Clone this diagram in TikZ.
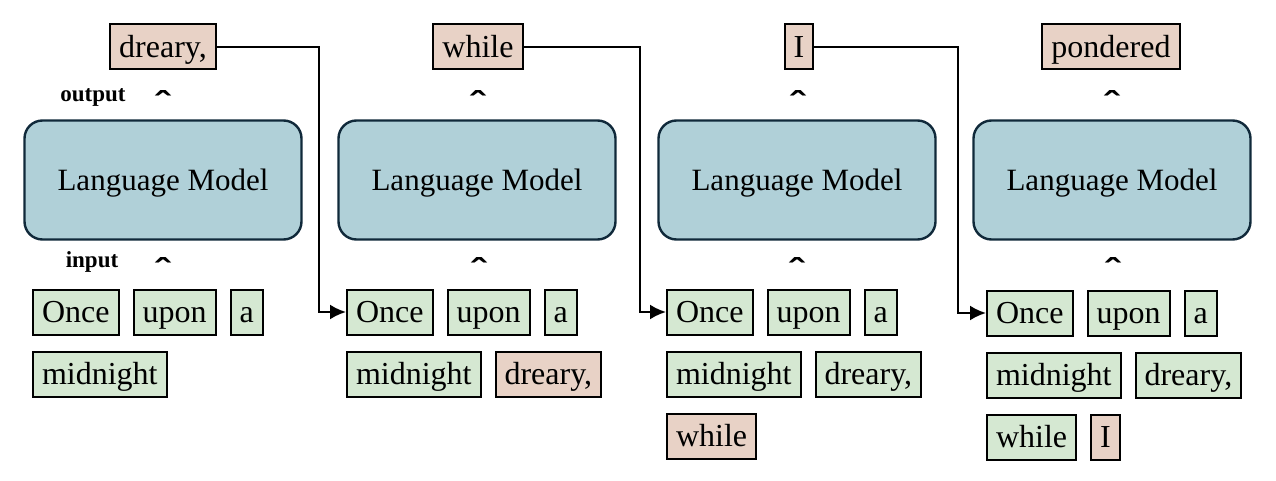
\documentclass[tikz,border=0pt]{standalone}
\usepackage{graphicx}
\usepackage{fontspec}
\setmainfont{Liberation Serif}
\newfontfamily\markfont{DejaVu Sans}
\usetikzlibrary{positioning,arrows.meta}
\definecolor{modelfill}{HTML}{B0D0D8}
\definecolor{modelline}{HTML}{10293A}
\definecolor{tokgreen}{HTML}{D5E8D2}
\definecolor{tokpeach}{HTML}{E8D2C6}
\newcommand{\upmark}{\scalebox{1.5}[1]{ˆ}}
\tikzset{
  model/.style={draw=modelline, line width=1.2pt, fill=modelfill, rounded corners=9pt,
    minimum width=138.5pt, minimum height=59.5pt, font=\fontsize{15.5}{18}\selectfont,
    text height=10.3pt, text depth=0pt},
  tok/.style={draw, line width=1pt, fill=tokgreen, minimum height=22.5pt, inner xsep=4.5pt,
    inner ysep=0pt, font=\fontsize{16}{19}\selectfont, text height=10.6pt, text depth=0pt},
  gen/.style={tok, fill=tokpeach},
  caret/.style={font=\markfont\fontsize{15}{15}\bfseries\selectfont, anchor=base, inner sep=0pt},
  tag/.style={font=\fontsize{11.5}{14}\bfseries\selectfont, anchor=base, inner sep=0pt},
  link/.style={line width=1.1pt, -{Latex[length=8pt,width=7.5pt]}}
}
\begin{document}
\begin{tikzpicture}[x=0.5pt,y=-0.5pt]
        \useasboundingbox (0,0) rectangle (1276,481);
        % models
        \node[model] at (163,180)  (lm1) {Language Model};
        \node[model] at (477,180)  (lm2) {Language Model};
        \node[model] at (797,180)  (lm3) {Language Model};
        \node[model] at (1112,180) (lm4) {Language Model};
        % outputs
        \node[gen] at (163,47)  (out1) {dreary,};
        \node[gen] at (478,47)  (out2) {while};
        \node[gen] at (799,47)  (out3) {I};
        \node[gen] at (1111,47) (out4) {pondered};
        \node[tag] at (93,102)  (outtag) {output};
        \node[tag] at (92,268)  (intag) {input};
        \node[caret] at (163,115)  (hatout1) {\upmark};
        \node[caret] at (478,115)  (hatout2) {\upmark};
        \node[caret] at (798,115)  (hatout3) {\upmark};
        \node[caret] at (1112,115) (hatout4) {\upmark};
        \node[caret] at (163,282)  (hatin1) {\upmark};
        \node[caret] at (479,282)  (hatin2) {\upmark};
        \node[caret] at (797,282)  (hatin3) {\upmark};
        \node[caret] at (1113,282) (hatin4) {\upmark};
        % inputs
        \node[tok, anchor=west] at (32,312) (once1) {Once};
        \node[tok, right=6.5pt of once1] (upon1) {upon};
        \node[tok, right=6.5pt of upon1] (a1) {a};
        \node[tok, below right=7.5pt and 0pt of once1.south west] (mid1) {midnight};
        \node[tok, anchor=west] at (346,312) (once2) {Once};
        \node[tok, right=6.5pt of once2] (upon2) {upon};
        \node[tok, right=6.5pt of upon2] (a2) {a};
        \node[tok, below right=7.5pt and 0pt of once2.south west] (mid2) {midnight};
        \node[gen, right=6.5pt of mid2] (drea2) {dreary,};
        \node[tok, anchor=west] at (666,312) (once3) {Once};
        \node[tok, right=6.5pt of once3] (upon3) {upon};
        \node[tok, right=6.5pt of upon3] (a3) {a};
        \node[tok, below right=7.5pt and 0pt of once3.south west] (mid3) {midnight};
        \node[tok, right=6.5pt of mid3] (drea3) {dreary,};
        \node[gen, below right=7.5pt and 0pt of mid3.south west] (while3) {while};
        \node[tok, anchor=west] at (986,313) (once4) {Once};
        \node[tok, right=6.5pt of once4] (upon4) {upon};
        \node[tok, right=6.5pt of upon4] (a4) {a};
        \node[tok, below right=7.5pt and 0pt of once4.south west] (mid4) {midnight};
        \node[tok, right=6.5pt of mid4] (drea4) {dreary,};
        \node[tok, below right=7.5pt and 0pt of mid4.south west] (while4) {while};
        \node[gen, right=6.5pt of while4] (i4) {I};
        % feedback
        \coordinate (turn1) at (319,312);
        \coordinate (turn2) at (640,312);
        \coordinate (turn3) at (958,313);
        \draw[link] (out1.east) -| (turn1) -- (once2.west);
        \draw[link] (out2.east) -| (turn2) -- (once3.west);
        \draw[link] (out3.east) -| (turn3) -- (once4.west);
      \end{tikzpicture}
\end{document}
